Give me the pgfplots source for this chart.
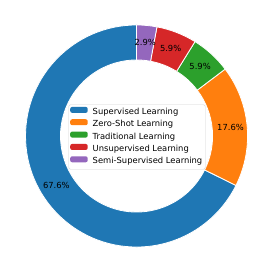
\documentclass[border=0pt]{standalone}
\usepackage{pgfplots}
\pgfplotsset{compat=1.18}
\usepackage{pgfplotstable}
\usepackage{fontspec}
\setmainfont{DejaVu Sans}
\definecolor{c1}{HTML}{1F77B4}
\definecolor{c2}{HTML}{FF7F0E}
\definecolor{c3}{HTML}{2CA02C}
\definecolor{c4}{HTML}{D62728}
\definecolor{c5}{HTML}{9467BD}
\newcommand\lblfont{\fontsize{8.4}{10}\selectfont}
\pgfplotstableread{
count pct col
23 67.6 c1
6 17.6 c2
2 5.9 c3
2 5.9 c4
1 2.9 c5
}\piedata
\begin{document}
\begin{tikzpicture}
\begin{axis}[
  x=111bp, y=111bp,
  xmin=-1.230, xmax=1.238, ymin=-1.243, ymax=1.225,
  hide axis, clip=false,
  legend style={at={(0.5,0.5)}, anchor=center, draw=black!18, rounded corners=2pt,
    fill=white, font=\lblfont, row sep=1.2pt, inner xsep=1.5pt, inner ysep=2pt,
    nodes={inner sep=1.5pt, text height=6.3pt, text depth=1.9pt}},
  legend cell align=left,
  legend image code/.code={\fill[#1, draw=none] (0bp,-0.6bp) rectangle (17.5bp,5.4bp);
    \path[draw=none, fill=none] (0bp,0bp) -- (21bp,0bp);},
]
\path (axis cs:-1.230,-1.243) rectangle (axis cs:1.238,1.225);
\def\start{90}
\pgfplotsforeachungrouped \i in {0,...,4}{%
  \pgfplotstablegetelem{\i}{count}\of\piedata \let\v\pgfplotsretval
  \pgfplotstablegetelem{\i}{pct}\of\piedata \let\p\pgfplotsretval
  \pgfplotstablegetelem{\i}{col}\of\piedata \let\c\pgfplotsretval
  \pgfmathsetmacro\stop{\start+\v/34*360}%
  \pgfmathsetmacro\mid{(\start+\stop)/2}%
  \pgfmathsetmacro\xa{cos(\start)}\pgfmathsetmacro\ya{sin(\start)}%
  \pgfmathsetmacro\xb{0.685*cos(\stop)}\pgfmathsetmacro\yb{0.685*sin(\stop)}%
  \pgfmathsetmacro\xl{0.85*cos(\mid)}\pgfmathsetmacro\yl{0.85*sin(\mid)}%
  \edef\cmd{\noexpand\fill[\c, draw=white, line width=0.8bp, line join=round]
    (axis cs:\xa,\ya) arc[start angle=\start, end angle=\stop, radius=111bp]
    -- (axis cs:\xb,\yb) arc[start angle=\stop, end angle=\start, radius=76.035bp] -- cycle;
    \noexpand\node[font=\noexpand\lblfont, inner sep=0pt] at (axis cs:\xl,\yl) {\p\noexpand\%};}%
  \cmd
  \global\let\start\stop
}
\addlegendimage{fill=c1}\addlegendentry{Supervised Learning}
\addlegendimage{fill=c2}\addlegendentry{Zero-Shot Learning}
\addlegendimage{fill=c3}\addlegendentry{Traditional Learning}
\addlegendimage{fill=c4}\addlegendentry{Unsupervised Learning}
\addlegendimage{fill=c5}\addlegendentry{Semi-Supervised Learning}
\end{axis}
\end{tikzpicture}
\end{document}
